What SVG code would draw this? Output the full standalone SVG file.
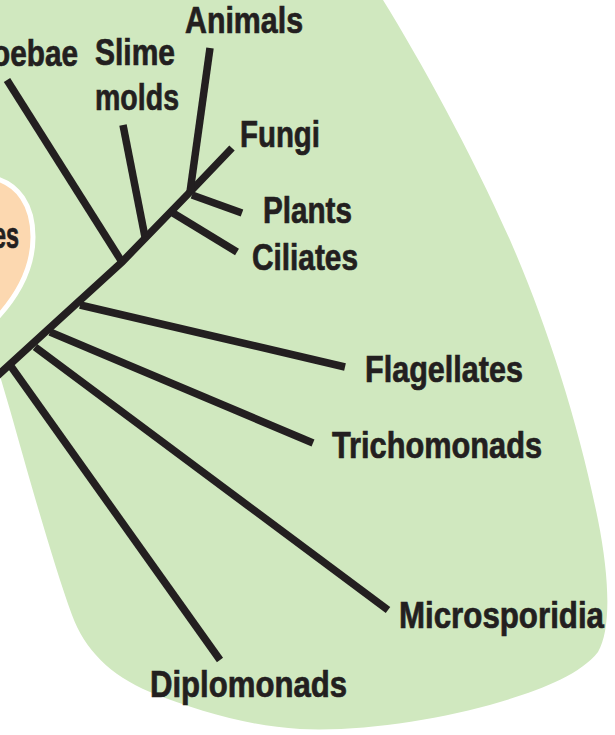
<svg xmlns="http://www.w3.org/2000/svg" width="615" height="735" viewBox="0 0 615 735">
<style>
.lbl{font-family:"Liberation Sans",Arial,sans-serif;font-weight:bold;font-size:36px;fill:#231f20;stroke:#231f20;stroke-width:0.7}
.br{stroke:#231f20;stroke-width:7.5;fill:none;stroke-linecap:butt;stroke-linejoin:miter}
</style>
<rect x="0" y="0" width="615" height="735" fill="#ffffff"/>
<g id="eukarya-region">
<path d="M0,0 L383,0 C420,60 470,150 510,240 C545,320 578,420 598,520 C610,580 611,630 598,652 C580,675 540,690 500,702 C440,720 360,732 300,729 C250,726 200,712 150,692 C110,675 85,650 72,615 C52,560 27,470 10,410 L0,376 Z" fill="#d0e8bf"/>
</g>
<g id="archaea-region">
<path d="M-6,178 C18,184 33,205 33,237 C33,266 20,294 -6,321 Z" fill="#fcd8b0" stroke="#ffffff" stroke-width="5"/>
<text class="lbl" x="19" y="248" text-anchor="end" textLength="26" lengthAdjust="spacingAndGlyphs">es</text>
</g>
<g id="connectors">
<polyline class="br" points="-4,377 122,262 190,192 232,148"/>
<line class="br" x1="7" y1="80" x2="122" y2="262"/>
<line class="br" x1="123" y1="125" x2="145" y2="237"/>
<line class="br" x1="210" y1="48" x2="190" y2="192"/>
<line class="br" x1="192" y1="195" x2="242" y2="213"/>
<line class="br" x1="173" y1="213" x2="237" y2="252"/>
<line class="br" x1="80" y1="305" x2="345" y2="367"/>
<line class="br" x1="50" y1="332" x2="313" y2="443"/>
<line class="br" x1="35" y1="347" x2="388" y2="610"/>
<line class="br" x1="10" y1="365" x2="220" y2="660"/>
</g>
<g id="node-amoebae"><text class="lbl" x="78" y="66" text-anchor="end" textLength="86" lengthAdjust="spacingAndGlyphs">oebae</text></g>
<g id="node-slime-molds">
<text class="lbl" x="95" y="65" textLength="80" lengthAdjust="spacingAndGlyphs">Slime</text>
<text class="lbl" x="95" y="110" textLength="84" lengthAdjust="spacingAndGlyphs">molds</text>
</g>
<g id="node-animals"><text class="lbl" x="185" y="33" textLength="118" lengthAdjust="spacingAndGlyphs">Animals</text></g>
<g id="node-fungi"><text class="lbl" x="240" y="147" textLength="80" lengthAdjust="spacingAndGlyphs">Fungi</text></g>
<g id="node-plants"><text class="lbl" x="263" y="223" textLength="89" lengthAdjust="spacingAndGlyphs">Plants</text></g>
<g id="node-ciliates"><text class="lbl" x="252" y="270" textLength="106" lengthAdjust="spacingAndGlyphs">Ciliates</text></g>
<g id="node-flagellates"><text class="lbl" x="365" y="382" textLength="158" lengthAdjust="spacingAndGlyphs">Flagellates</text></g>
<g id="node-trichomonads"><text class="lbl" x="332" y="458" textLength="210" lengthAdjust="spacingAndGlyphs">Trichomonads</text></g>
<g id="node-microsporidia"><text class="lbl" x="399" y="628" textLength="205" lengthAdjust="spacingAndGlyphs">Microsporidia</text></g>
<g id="node-diplomonads"><text class="lbl" x="150" y="697" textLength="197" lengthAdjust="spacingAndGlyphs">Diplomonads</text></g>
</svg>
